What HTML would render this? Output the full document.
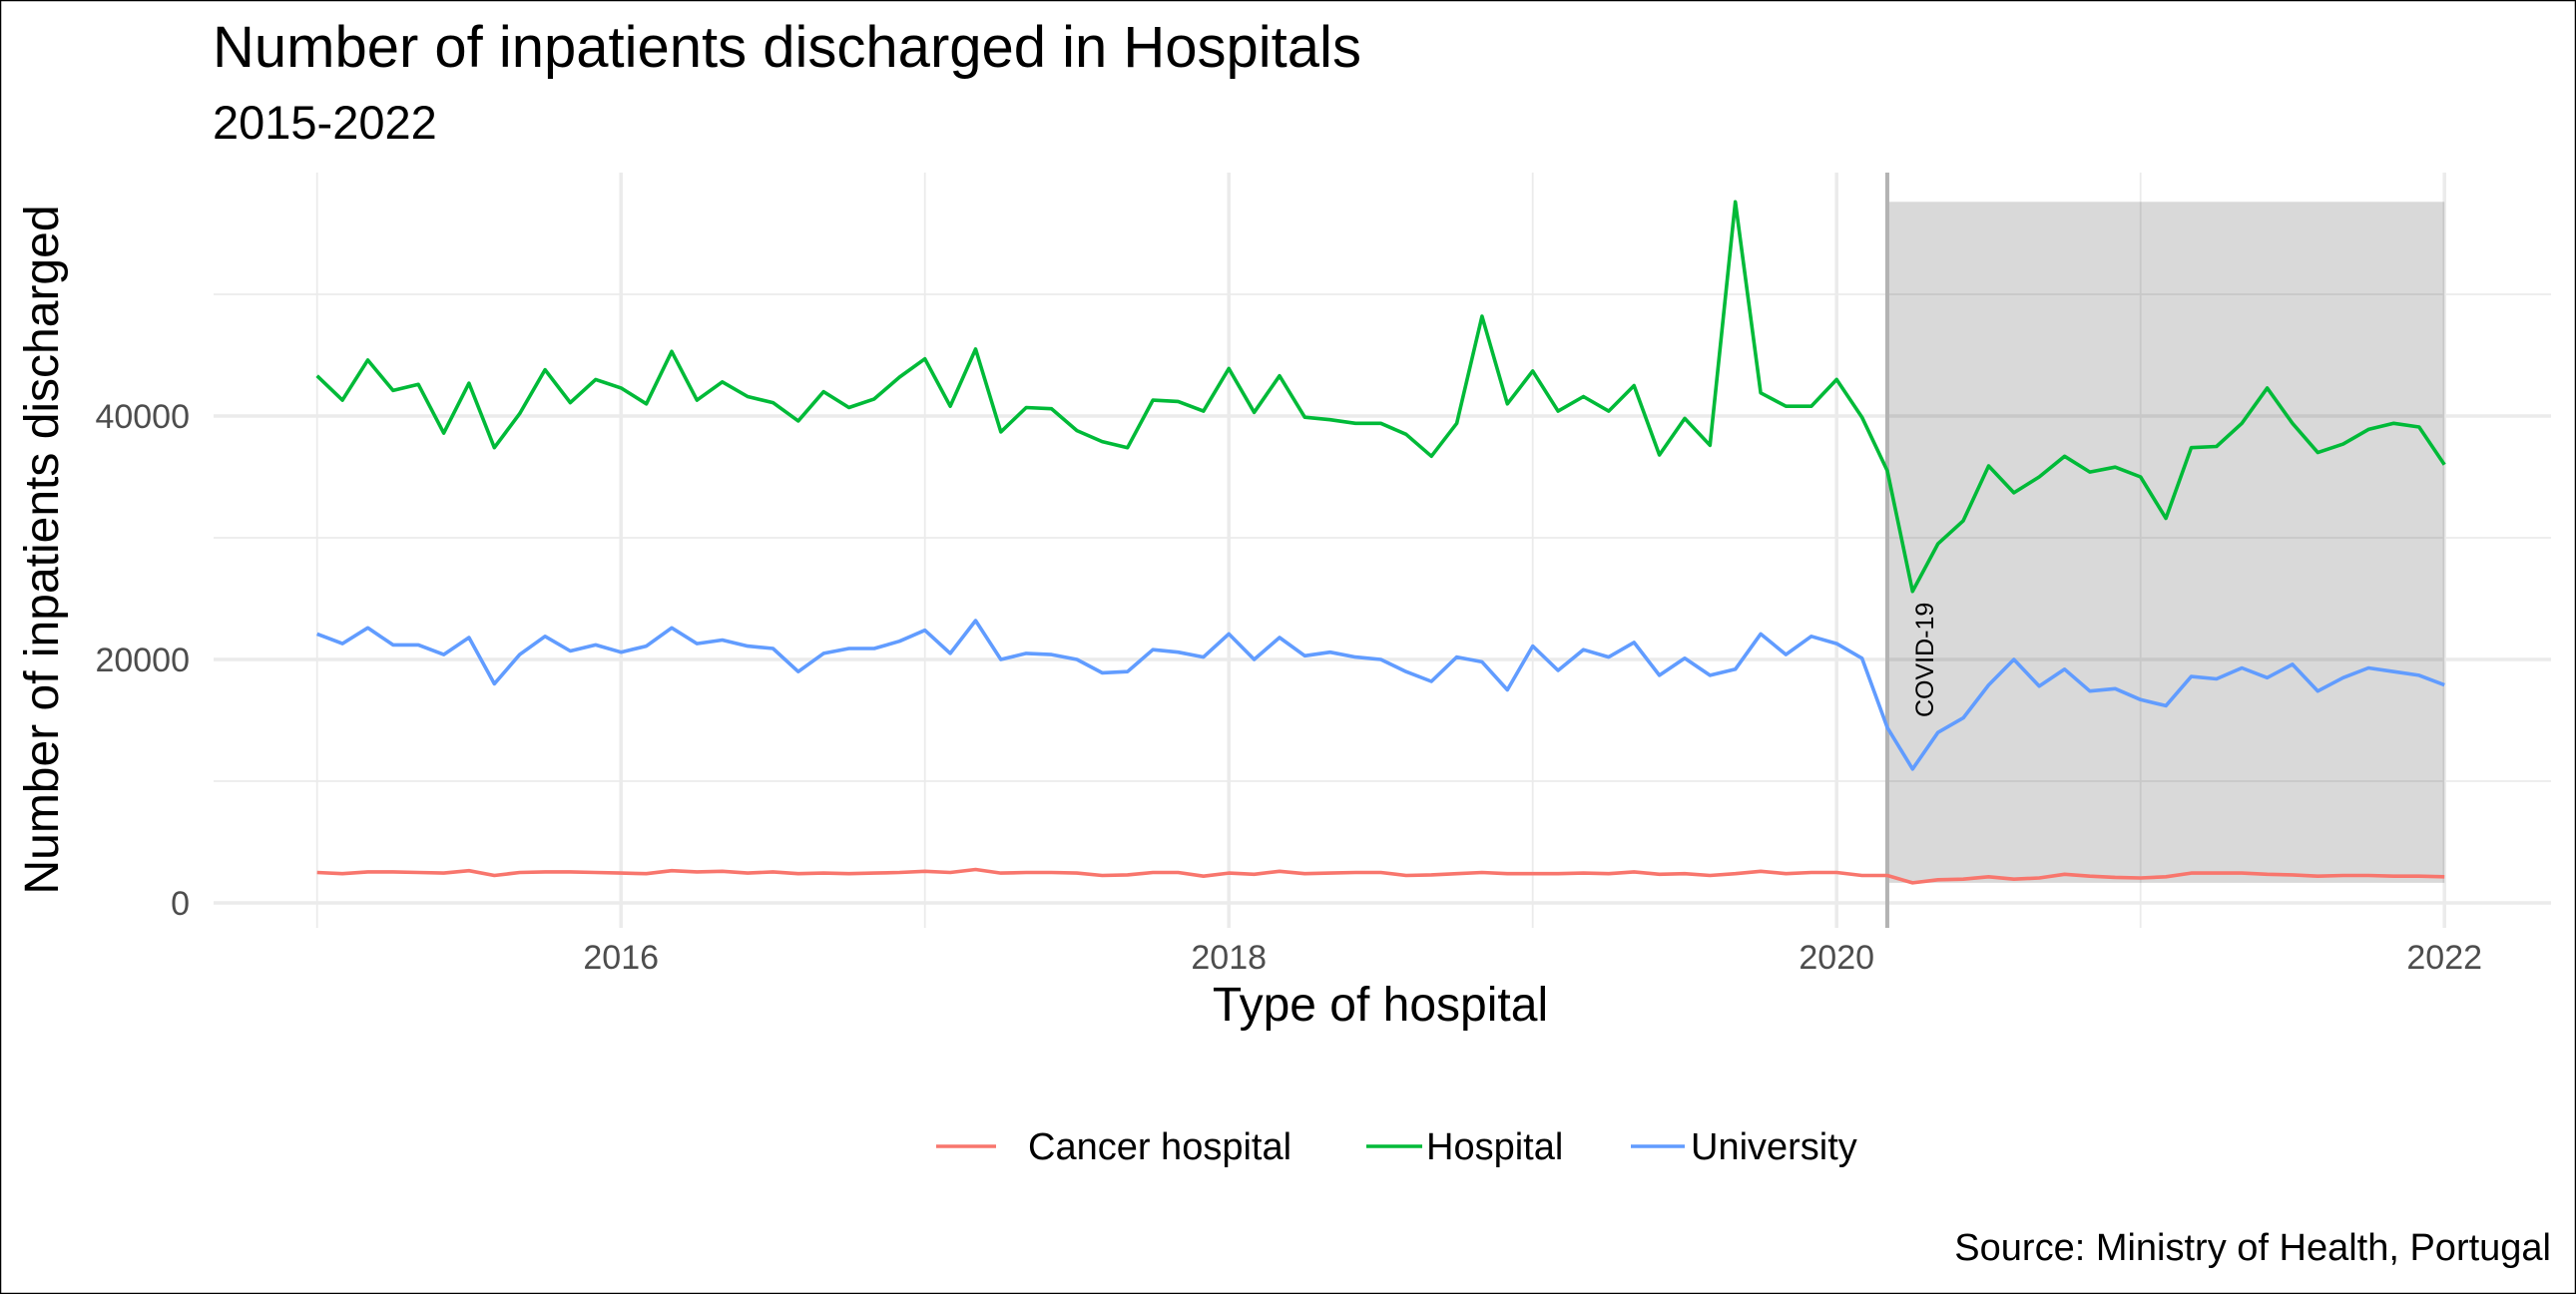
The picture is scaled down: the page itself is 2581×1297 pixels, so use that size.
<!DOCTYPE html>
<html><head><meta charset="utf-8">
<style>
html,body{margin:0;padding:0;background:#fff;}
svg{display:block;font-family:"Liberation Sans",sans-serif;}
</style></head>
<body>
<svg id="chart" width="2581" height="1297" viewBox="0 0 2581 1297">
<rect x="0.5" y="0.5" width="2580" height="1296" fill="#fff" stroke="#000" stroke-width="1.5"/>
<g id="grid"></g>
<g id="shade"></g>
<g id="series"></g>
<g id="axes"></g>
<text x="213" y="67" font-size="58" fill="#000">Number of inpatients discharged in Hospitals</text>
<text x="213" y="139" font-size="47" fill="#000">2015-2022</text>
<text x="1383" y="1023" font-size="48" text-anchor="middle" fill="#000">Type of hospital</text>
<text transform="translate(58,551) rotate(-90)" font-size="48" text-anchor="middle" fill="#000">Number of inpatients discharged</text>
<g id="legend"></g>
<text x="2556" y="1263" font-size="38" text-anchor="end" fill="#000">Source: Ministry of Health, Portugal</text>
</svg>
<script>
const seriesNames = ["Cancer hospital","Hospital","University"];
const seriesColors = ["#F8766D","#00BA38","#619CFF"];
const startYear = 2015;
const cancer = [2500,2400,2550,2550,2500,2450,2650,2250,2500,2550,2550,2500,
2450,2400,2650,2550,2600,2450,2550,2400,2450,2400,2450,2500,
2600,2500,2750,2450,2500,2500,2450,2250,2300,2500,2500,2200,
2450,2350,2600,2400,2450,2500,2500,2250,2300,2400,2500,2400,
2400,2400,2450,2400,2550,2350,2400,2250,2400,2600,2400,2500,
2500,2250,2250,1650,1900,1950,2150,1950,2050,2350,2200,2100,
2050,2150,2450,2450,2450,2350,2300,2200,2250,2250,2200,2200,
2150];
const hospital = [43300,41300,44600,42100,42600,38600,42700,37400,40200,43800,41100,43000,
42300,41000,45300,41300,42800,41600,41100,39600,42000,40700,41400,43200,
44700,40800,45500,38700,40700,40600,38800,37900,37400,41300,41200,40400,
43900,40300,43300,39900,39700,39400,39400,38500,36700,39400,48200,41000,
43700,40400,41600,40400,42500,36800,39800,37600,57600,41900,40800,40800,
43000,39900,35500,25600,29500,31400,35900,33700,35000,36700,35400,35800,
35000,31600,37400,37500,39400,42300,39400,37000,37700,38900,39400,39100,
36000];
const university = [22100,21300,22600,21200,21200,20400,21800,18000,20400,21900,20700,21200,
20600,21100,22600,21300,21600,21100,20900,19000,20500,20900,20900,21500,
22400,20500,23200,20000,20500,20400,20000,18900,19000,20800,20600,20200,
22100,20000,21800,20300,20600,20200,20000,19000,18200,20200,19800,17500,
21100,19100,20800,20200,21400,18700,20100,18700,19200,22100,20400,21900,
21300,20100,14400,11000,14000,15200,17900,20000,17800,19200,17400,17600,
16700,16200,18600,18400,19300,18500,19600,17400,18500,19300,19000,18700,
17900];
const xTicks = [2016,2018,2020,2022];
const xMinor = [2015,2017,2019,2021];
const yTicks = [0,20000,40000];
const yMinor = [10000,30000,50000];
const covidStart = 2020 + 2/12;
const covidLabel = "COVID-19";

const NS="http://www.w3.org/2000/svg";
const PL=214, PR=2556, PT=173, PB=930;
function xs(t){ return 317.7 + (t-2015)*304.5; }
function ys(v){ return 905 - v*0.0122; }
function mk(tag, attrs, parent){ const e=document.createElementNS(NS,tag); for(const k in attrs) e.setAttribute(k,attrs[k]); parent.appendChild(e); return e; }
const grid=document.getElementById('grid'), axes=document.getElementById('axes'), ser=document.getElementById('series'), shade=document.getElementById('shade'), leg=document.getElementById('legend');

yMinor.forEach(v=>{ const l=mk('line',{x1:PL,x2:PR,y1:ys(v),y2:ys(v),stroke:'#ebebeb','stroke-width':1.8},grid);

 });
xMinor.forEach(t=>{ const l=mk('line',{x1:xs(t),x2:xs(t),y1:PT,y2:PB,stroke:'#ebebeb','stroke-width':1.8},grid);

 });
yTicks.forEach(v=>{ const l=mk('line',{x1:PL,x2:PR,y1:ys(v),y2:ys(v),stroke:'#ebebeb','stroke-width':3.5},grid);


const t=mk('text',{x:190,y:ys(v)+12,'font-size':34,'text-anchor':'end',fill:'#4d4d4d'},axes);
t.textContent=v;

 });
xTicks.forEach(y=>{ const l=mk('line',{x1:xs(y),x2:xs(y),y1:PT,y2:PB,stroke:'#ebebeb','stroke-width':3.5},grid);


const t=mk('text',{x:xs(y),y:971,'font-size':34,'text-anchor':'middle',fill:'#4d4d4d'},axes);
t.textContent=y;

 });

const all=[...cancer,...hospital,...university];
const vmax=Math.max(...all), vmin=Math.min(...all);
const lastT = startYear + (hospital.length-1)/12;
const r=mk('rect',{x:xs(covidStart),y:ys(vmax),width:xs(lastT)-xs(covidStart),height:ys(vmin)-ys(vmax),fill:'#000','fill-opacity':0.15},shade);


const vl=mk('line',{x1:xs(covidStart),x2:xs(covidStart),y1:PT,y2:PB,stroke:'#b3b3b3','stroke-width':4},shade);


const ct=mk('text',{transform:`translate(${xs(covidStart)+46},719) rotate(-90)`,'font-size':25,'text-anchor':'start',fill:'#000'},shade);
ct.textContent=covidLabel;



const data=[cancer,hospital,university];
const lineNames=['cancer-hospital-line','hospital-line','university-line'];
data.forEach((arr,i)=>{
  const pts=arr.map((v,k)=>xs(startYear+k/12).toFixed(1)+','+ys(v).toFixed(1)).join(' ');
  const p=mk('polyline',{points:pts,fill:'none',stroke:seriesColors[i],'stroke-width':3.6,'stroke-linejoin':'round','stroke-linecap':'butt'},ser);
  
  
});

const legX=[[938,998,1030],[1369,1425,1429],[1634,1688,1694]];
seriesNames.forEach((n,i)=>{
  const g=mk('g',{},leg);
  
  
  mk('line',{x1:legX[i][0],x2:legX[i][1],y1:1149,y2:1149,stroke:seriesColors[i],'stroke-width':3.6},g);
  const t=mk('text',{x:legX[i][2],y:1162,'font-size':38,fill:'#000'},g);
  t.textContent=n;
});
</script>
</body></html>
